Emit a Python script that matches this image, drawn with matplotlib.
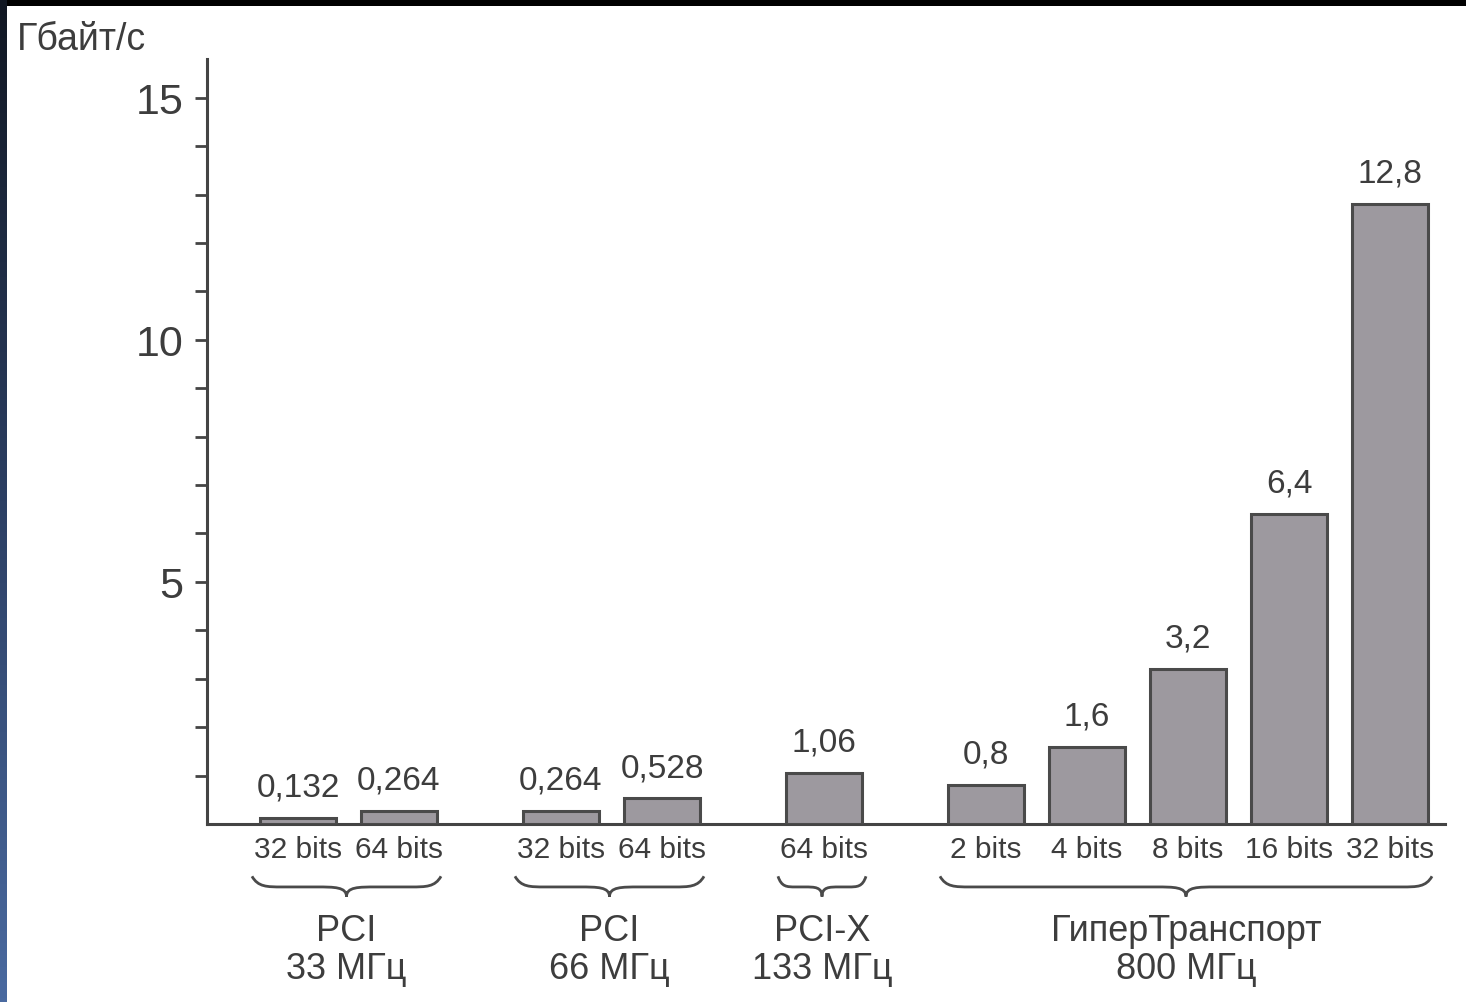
import matplotlib.pyplot as plt
import numpy as np
from matplotlib.path import Path
from matplotlib.patches import PathPatch
from matplotlib.colors import LinearSegmentedColormap

# Пропускная способность шин, Гбайт/с
groups = ['PCI\n33 МГц', 'PCI\n66 МГц', 'PCI-X\n133 МГц', 'ГиперТранспорт\n800 МГц']
widths = [['32 bits', '64 bits'],
          ['32 bits', '64 bits'],
          ['64 bits'],
          ['2 bits', '4 bits', '8 bits', '16 bits', '32 bits']]
speeds = [[0.132, 0.264],
          [0.264, 0.528],
          [1.06],
          [0.8, 1.6, 3.2, 6.4, 12.8]]

INK = '#3d3d3d'
BAR = '#9d999f'
STEP = 1.01   # шаг между столбцами внутри группы
GAP = 1.62    # шаг между группами
BAR_W = 0.76

font = ['Liberation Sans', 'DejaVu Sans']

# позиции столбцов по группам
pos, x = [], 0.0
for g in speeds:
    p = [x + i * STEP for i in range(len(g))]
    pos.append(p)
    x = p[-1] + GAP

fig = plt.figure(figsize=(14.66, 10.03), dpi=100)
fig.patch.set_facecolor('white')

# тёмная рамка слайда сверху и синяя полоса слева
top = fig.add_axes([0, 1 - 7 / 1003, 1, 7 / 1003])
top.add_patch(plt.Rectangle((0, 0), 1, 1, color='black', transform=top.transAxes))
top.axis('off')
side = fig.add_axes([0, 0, 7 / 1466, 1])
grad = np.linspace(0, 1, 256).reshape(-1, 1)
cm = LinearSegmentedColormap.from_list('slide', ['#4a6aa0', '#2c3f63', '#111722'])
side.imshow(grad, aspect='auto', cmap=cm, origin='lower', extent=(0, 1, 0, 1))
side.axis('off')

ax = fig.add_axes([207 / 1466, 178 / 1003, 1238 / 1466, 765 / 1003])

all_pos, all_lbl = [], []
for p, vals, lbls in zip(pos, speeds, widths):
    ax.bar(p, vals, BAR_W, color=BAR, edgecolor='#4a4a4a', linewidth=2.2, zorder=3)
    for xb, v in zip(p, vals):
        ax.annotate(f'{v:g}'.replace('.', ','), (xb, v), xytext=(0, 11),
                    textcoords='offset points', ha='center', va='bottom',
                    fontsize=24, color=INK, family=font)
    all_pos += p
    all_lbl += lbls

ax.set_xlim(-0.91, 11.47)
ax.set_ylim(0, 15.8)

ax.spines['top'].set_visible(False)
ax.spines['right'].set_visible(False)
for s in ('left', 'bottom'):
    ax.spines[s].set_linewidth(2.2)
    ax.spines[s].set_color('#444444')

ax.set_xticks(all_pos)
ax.set_xticklabels(all_lbl, fontsize=21.5, color=INK, family=font)
ax.tick_params(axis='x', length=0, pad=8)

ax.set_yticks([5, 10, 15])
ax.set_yticklabels(['5', '10', '15'], fontsize=31, color=INK, family=font)
ax.set_yticks(range(1, 16), minor=True)
ax.tick_params(axis='y', which='both', direction='out', length=9, width=2,
               color='#444444', pad=8)

fig.text(17 / 1466, 1 - 40 / 1003, 'Гбайт/с', fontsize=27, color=INK,
         family=font, va='center', ha='left')

# фигурные скобки под группами
def brace(x0, x1, y_top, y_mid, y_tip):
    xc = (x0 + x1) / 2
    d = min(0.3, (x1 - x0) / 5)
    verts = [(x0, y_top),
             (x0 + d * 0.2, y_mid), (x0 + d * 0.5, y_mid), (x0 + d, y_mid),
             (xc - d, y_mid),
             (xc - d * 0.4, y_mid), (xc, y_mid), (xc, y_tip),
             (xc, y_mid), (xc + d * 0.4, y_mid), (xc + d, y_mid),
             (x1 - d, y_mid),
             (x1 - d * 0.5, y_mid), (x1 - d * 0.2, y_mid), (x1, y_top)]
    codes = [Path.MOVETO,
             Path.CURVE4, Path.CURVE4, Path.CURVE4,
             Path.LINETO,
             Path.CURVE4, Path.CURVE4, Path.CURVE4,
             Path.CURVE4, Path.CURVE4, Path.CURVE4,
             Path.LINETO,
             Path.CURVE4, Path.CURVE4, Path.CURVE4]
    ax.add_patch(PathPatch(Path(verts, codes), fill=False, lw=2, ec='#4a4a4a',
                           clip_on=False))

for p, name in zip(pos, groups):
    x0, x1 = p[0] - BAR_W / 2 - 0.08, p[-1] + BAR_W / 2 + 0.04
    brace(x0, x1, -1.08, -1.30, -1.50)
    ax.text((x0 + x1) / 2, -1.83, name, ha='center', va='top', fontsize=26,
            color=INK, family=font, linespacing=1.12)

fig.savefig('out.png', dpi=100)
